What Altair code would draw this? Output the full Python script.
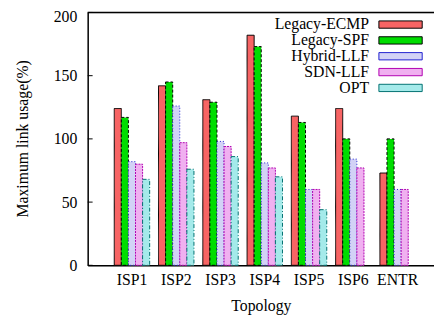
import altair as alt
import pandas as pd

categories = ["ISP1", "ISP2", "ISP3", "ISP4", "ISP5", "ISP6", "ENTR"]
series = ["Legacy-ECMP", "Legacy-SPF", "Hybrid-LLF", "SDN-LLF", "OPT"]
ecmp = [124, 142, 131, 182, 118, 124, 73]
spf = [117, 145, 129, 173, 113, 100, 100]
hybrid = [82, 126, 98, 81, 60, 84, 60]
sdn = [80, 97, 94, 77, 60, 77, 60]
opt = [68, 76, 86, 70, 44, None, None]
y_ticks = [0, 50, 100, 150, 200]
y_title = "Maximum link usage(%)"
x_title = "Topology"

fills = ["#f76464", "#00dd00", "#d2d2f6", "#f0b0f0", "#a4eaea"]
strokes = ["#000000", "#000000", "#2020d0", "#b000b0", "#007070"]
dashes = [[1, 0], [3, 2], [1, 2], [2, 1], [4, 2, 1, 2]]

rows = []
for s, vals in zip(series, [ecmp, spf, hybrid, sdn, opt]):
    for c, v in zip(categories, vals):
        if v is not None:
            rows.append({"topology": c, "series": s, "value": v})
df = pd.DataFrame(rows)
leg = pd.DataFrame({"series": series, "row": list(range(len(series)))})
ticks_df = pd.DataFrame({"v": y_ticks})

FONT = "Liberation Serif"
W, H = 352, 257

fill_scale = alt.Scale(domain=series, range=fills)
stroke_scale = alt.Scale(domain=series, range=strokes)
dash_scale = alt.Scale(domain=series, range=dashes)
ydom = alt.Scale(domain=[0, 200])

bars = alt.Chart(df).mark_bar(strokeWidth=1).encode(
    x=alt.X("topology:N", sort=categories,
            scale=alt.Scale(paddingInner=0.2, paddingOuter=0.511, align=0.587),
            axis=alt.Axis(title=x_title, labelAngle=0, ticks=False, labelPadding=7,
                          labelFont=FONT, labelFontSize=16, labelColor="#000",
                          titleFont=FONT, titleFontSize=16, titleFontWeight="normal",
                          titleColor="#000", titleY=46, titleBaseline="alphabetic",
                          domainColor="#000", domainWidth=1.5, grid=False)),
    xOffset=alt.XOffset("series:N", sort=series, scale=alt.Scale(paddingInner=0, paddingOuter=0)),
    y=alt.Y("value:Q", scale=ydom,
            axis=alt.Axis(title=None, values=y_ticks, ticks=False,
                          labelPadding=11, labelFont=FONT, labelFontSize=16, labelColor="#000",
                          labelOffset=alt.condition("datum.value == 200", alt.value(4), alt.value(0)),
                          domainColor="#000", domainWidth=1.5, grid=False)),
    fill=alt.Fill("series:N", scale=fill_scale, legend=None),
    stroke=alt.Stroke("series:N", scale=stroke_scale, legend=None),
    strokeDash=alt.StrokeDash("series:N", scale=dash_scale, legend=None),
)

ytitle = alt.Chart(ticks_df.head(1)).mark_text(
    angle=270, align="center", baseline="alphabetic", font=FONT, fontSize=16, color="#000"
).encode(x=alt.value(-61), y=alt.value(H / 2), text=alt.value(y_title))

inticks = alt.Chart(ticks_df).mark_rule(color="#000", strokeWidth=1).encode(
    y=alt.Y("v:Q", scale=ydom, axis=None),
    x=alt.value(0), x2=alt.value(5),
)

top = alt.Chart(ticks_df.head(1)).mark_rule(color="#000", strokeWidth=1.5).encode(
    x=alt.value(0), x2=alt.value(W), y=alt.value(0),
)

leg_y = alt.Scale(domain=[0, 4], range=[12.3, 76.7])
leg_rect = alt.Chart(leg).transform_calculate(
    t="datum.row - 0.23", b="datum.row + 0.23"
).mark_rect(strokeWidth=1).encode(
    y=alt.Y("t:Q", scale=leg_y, axis=None), y2="b:Q",
    x=alt.value(296), x2=alt.value(340),
    fill=alt.Fill("series:N", scale=fill_scale, legend=None),
    stroke=alt.Stroke("series:N", scale=stroke_scale, legend=None),
    strokeDash=alt.StrokeDash("series:N", scale=dash_scale, legend=None),
)
leg_text = alt.Chart(leg).mark_text(align="right", baseline="middle", font=FONT,
                                    fontSize=16, color="#000").encode(
    y=alt.Y("row:Q", scale=leg_y, axis=None),
    x=alt.value(286),
    text="series:N",
)

chart = alt.layer(bars, inticks, top, ytitle, leg_rect, leg_text).resolve_scale(
    y="independent"
).properties(
    width=W, height=H,
    autosize=alt.AutoSizeParams(type="none"),
    padding={"left": 81, "top": 2, "right": 0, "bottom": 50},
).configure_view(stroke=None).configure(background="white")

chart.save("out.html", embed_options={"renderer": "svg", "actions": False})
